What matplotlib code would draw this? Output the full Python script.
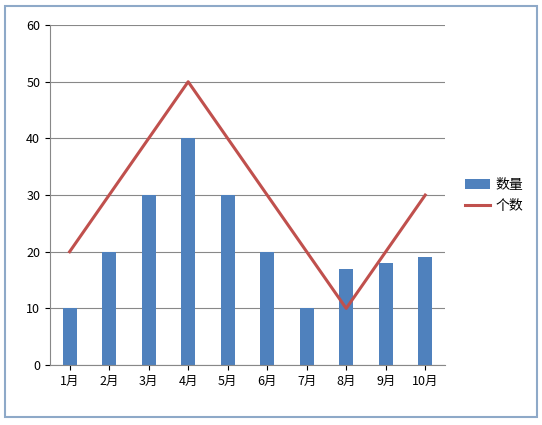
import matplotlib.pyplot as plt
from matplotlib.patches import Rectangle
import numpy as np

plt.rcParams['font.family'] = ['Noto Sans CJK SC', 'DejaVu Sans']

# data
months = ['1月', '2月', '3月', '4月', '5月', '6月', '7月', '8月', '9月', '10月']
quantity = [10, 20, 30, 40, 30, 20, 10, 17, 18, 19]
count = [20, 30, 40, 50, 40, 30, 20, 10, 20, 30]

fig = plt.figure(figsize=(5.42, 4.25), dpi=100)
# outer chart frame
fig.patches.append(Rectangle((0.01, 0.02), 0.98, 0.965, transform=fig.transFigure,
                             fill=False, edgecolor='#8EA9C8', lw=1.5))
ax = fig.add_axes([0.092, 0.141, 0.729, 0.8])

x = np.arange(len(months))
bars = ax.bar(x, quantity, width=0.36, color='#4F81BD', label='数量', zorder=2)
line, = ax.plot(x, count, color='#C0504D', lw=2.2, label='个数', zorder=3)

ax.set_xlim(-0.5, len(months) - 0.5)
ax.set_ylim(0, 60)
ax.set_yticks(range(0, 61, 10))
ax.set_xticks(x)
ax.set_xticklabels(months, fontsize=9)
ax.tick_params(axis='y', labelsize=9)
ax.yaxis.grid(True, color='#888888', lw=0.8, zorder=0)
for s in ['top', 'right']:
    ax.spines[s].set_visible(False)
ax.spines['left'].set_color('#888888')
ax.spines['bottom'].set_color('#888888')

ax.legend([bars, line], ['数量', '个数'], loc='center left', bbox_to_anchor=(1.02, 0.5),
          frameon=False, fontsize=10, handlelength=1.8, handletextpad=0.4)

fig.savefig('out.png')
